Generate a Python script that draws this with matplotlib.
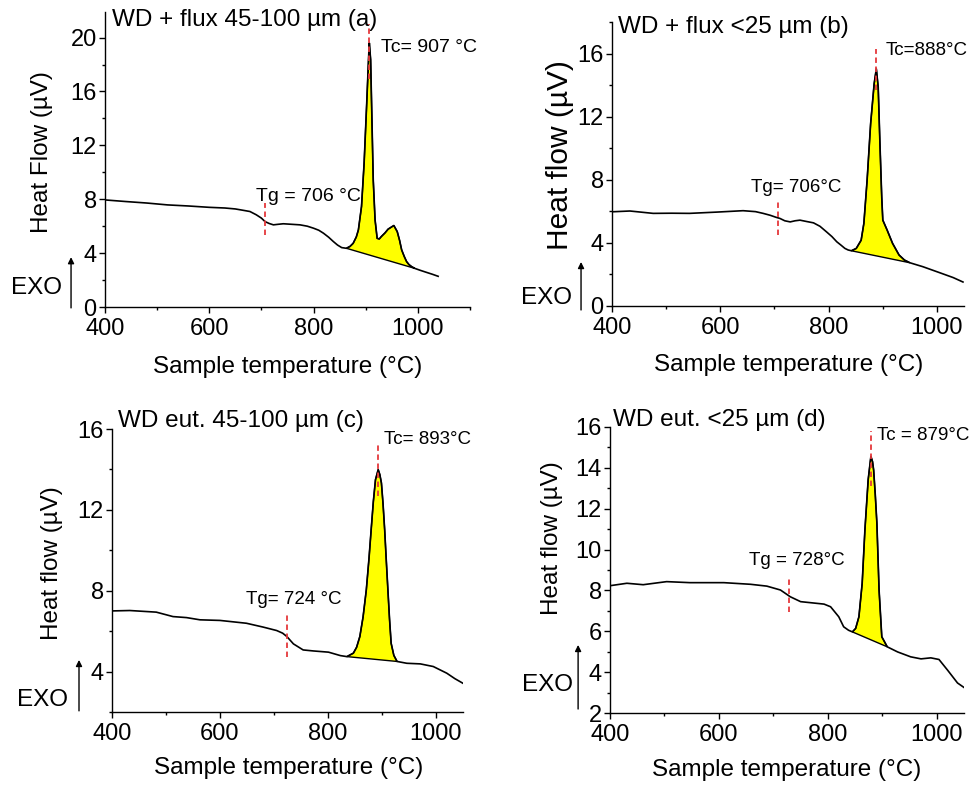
import numpy as np
import matplotlib
matplotlib.use("Agg")
import matplotlib.pyplot as plt
from matplotlib.ticker import MultipleLocator

plt.rcParams['font.family'] = ['Liberation Sans', 'DejaVu Sans']

# ---------------- DTA curves ----------------
# (a) WD + flux 45-100 um
temp_a = [400, 440, 480, 520, 560, 600, 630, 650, 665, 678, 690, 700, 707, 715,
          723, 732, 742, 758, 774, 788, 800, 810, 819, 829, 838, 846, 854, 863,
          870, 876, 882, 886, 892, 897, 902, 906, 907, 909.5, 912, 914.5, 918,
          922, 926, 930, 937, 943, 954, 960.5, 965, 969, 974, 978.5, 983, 988,
          994, 1005, 1016, 1028, 1039]
hf_a = [7.95, 7.83, 7.72, 7.58, 7.50, 7.40, 7.35, 7.28, 7.18, 7.09, 6.85, 6.60,
        6.34, 6.20, 6.10, 6.14, 6.18, 6.14, 6.10, 6.00, 5.85, 5.70, 5.48, 5.18,
        4.86, 4.60, 4.41, 4.36, 4.50, 4.73, 5.20, 5.72, 7.46, 10.68, 15.14,
        18.86, 19.6, 18.36, 13.9, 9.44, 6.47, 5.10, 5.05, 5.23, 5.50, 5.78,
        6.05, 5.60, 4.95, 4.24, 3.75, 3.37, 3.15, 3.00, 2.87, 2.72, 2.58, 2.43,
        2.28]
peak_a = (863, 994)
tg_a, tc_a = 706, 907

# (b) WD + flux <25 um
temp_b = [400, 433, 476, 510, 543, 593, 642, 665, 679, 692, 703, 710, 719, 729,
          738, 747, 760, 772, 784, 796, 806, 815, 823, 830, 836, 842, 851, 860,
          865, 871, 877.5, 884, 888, 891.5, 894.5, 898, 900, 908, 918, 930, 940,
          950, 974, 1005, 1030, 1048]
hf_b = [5.97, 6.02, 5.87, 5.88, 5.87, 5.95, 6.04, 5.98, 5.87, 5.75, 5.62, 5.55,
        5.40, 5.33, 5.40, 5.44, 5.35, 5.27, 5.05, 4.70, 4.40, 4.07, 3.85, 3.65,
        3.55, 3.50, 3.65, 4.17, 5.23, 7.97, 11.55, 14.08, 15.03, 13.87, 10.5,
        6.91, 5.44, 4.81, 3.97, 3.23, 2.91, 2.74, 2.49, 2.11, 1.80, 1.52]
peak_b = (842, 950)
tg_b, tc_b = 706, 888

# (c) WD eut. 45-100 um
temp_c = [400, 433, 482, 513, 538, 563, 600, 649, 680, 705, 716, 724, 736, 754,
          773, 801, 823, 835, 847, 853, 859, 865, 871, 876, 880, 884, 888, 893,
          896, 899, 902, 905, 908, 911, 914, 917, 922, 928, 946, 971, 995, 1020,
          1035, 1050]
hf_c = [7.00, 7.02, 6.94, 6.72, 6.67, 6.56, 6.53, 6.39, 6.20, 6.03, 5.90, 5.73,
        5.37, 5.07, 5.02, 4.96, 4.79, 4.74, 4.91, 5.20, 5.73, 6.70, 8.04, 9.60,
        11.02, 12.40, 13.49, 13.99, 13.75, 13.33, 12.30, 11.02, 9.50, 8.04,
        6.60, 5.40, 4.80, 4.50, 4.41, 4.38, 4.25, 3.92, 3.65, 3.42]
peak_c = (835, 928)
tg_c, tc_c = 724, 893

# (d) WD eut. <25 um
temp_d = [400, 431, 461, 504, 547, 609, 658, 688, 713, 731, 750, 768, 793, 805,
          820, 829, 838, 845, 851, 857, 863, 868, 874, 879, 882, 884, 887, 890,
          894, 899, 909, 928, 952, 971, 989, 1004, 1020, 1038, 1051]
hf_d = [8.23, 8.35, 8.28, 8.43, 8.38, 8.38, 8.30, 8.21, 8.02, 7.69, 7.45, 7.40,
        7.33, 7.20, 6.71, 6.22, 6.05, 5.97, 6.14, 6.71, 8.35, 10.96, 13.42,
        14.56, 14.30, 13.90, 12.70, 11.29, 8.02, 5.73, 5.24, 4.99, 4.75, 4.65,
        4.70, 4.62, 4.09, 3.47, 3.23]
peak_d = (845, 909)
tg_d, tc_d = 728, 879

titles = ["WD + flux 45-100 µm (a)", "WD + flux <25 µm (b)",
          "WD eut. 45-100 µm (c)", "WD eut. <25 µm (d)"]
ylabels = ["Heat Flow (µV)", "Heat flow (µV)", "Heat flow (µV)", "Heat flow (µV)"]
tc_labels = ["Tc= 907 °C", "Tc=888°C", "Tc= 893°C", "Tc = 879°C"]
tg_labels = ["Tg = 706 °C", "Tg= 706°C", "Tg= 724 °C", "Tg = 728°C"]
xlabel = "Sample temperature (°C)"

# ---------------- layout ----------------
fig = plt.figure(figsize=(9.73, 7.85), dpi=100)

layout = [
    dict(rect=[0.1079, 0.6089, 0.3751, 0.3758], xlim=(400, 1100), ylim=(0, 21.9),
         ymaj=4, ymin=2, title_xy=(413, 21.3), tc_xy=(930, 19.25), tg_xy=(690, 8.2),
         tc_span=(16.9, 21.0), tg_span=(5.34, 7.7), ann_fs=14,
         ylab_xy=(-0.173, 0.525), ylab_fs=17.5, xlab_xy=(0.501, -0.203),
         exo_xy=(-0.189, 0.064), arrow=(-0.093, -0.003, 0.169)),
    dict(rect=[0.6290, 0.6102, 0.3618, 0.3618], xlim=(400, 1050), ylim=(0, 18),
         ymaj=4, ymin=2, title_xy=(411, 17.7), tc_xy=(906, 16.2), tg_xy=(657, 7.5),
         tc_span=(13.7, 16.3), tg_span=(4.5, 6.71), ann_fs=13.5,
         ylab_xy=(-0.148, 0.532), ylab_fs=21.5, xlab_xy=(0.503, -0.208),
         exo_xy=(-0.185, 0.028), arrow=(-0.088, -0.014, 0.155)),
    dict(rect=[0.1151, 0.0930, 0.3607, 0.3605], xlim=(400, 1050), ylim=(2, 16),
         ymaj=4, ymin=2, title_xy=(411, 16.4), tc_xy=(903, 15.47), tg_xy=(649, 7.55),
         tc_span=(12.67, 15.3), tg_span=(4.74, 6.89), ann_fs=13.5,
         ylab_xy=(-0.172, 0.527), ylab_fs=17.5, xlab_xy=(0.502, -0.198),
         exo_xy=(-0.198, 0.042), arrow=(-0.094, 0.004, 0.184)),
    dict(rect=[0.6269, 0.0917, 0.3639, 0.3644], xlim=(400, 1050), ylim=(2, 16),
         ymaj=2, ymin=1, title_xy=(405, 16.36), tc_xy=(891, 15.6), tg_xy=(656, 9.46),
         tc_span=(13.09, 15.79), tg_span=(6.96, 8.64), ann_fs=13.5,
         ylab_xy=(-0.164, 0.612), ylab_fs=17.5, xlab_xy=(0.500, -0.199),
         exo_xy=(-0.177, 0.098), arrow=(-0.090, 0.014, 0.238)),
]

curves = [(temp_a, hf_a, peak_a, tg_a, tc_a),
          (temp_b, hf_b, peak_b, tg_b, tc_b),
          (temp_c, hf_c, peak_c, tg_c, tc_c),
          (temp_d, hf_d, peak_d, tg_d, tc_d)]

red = '#e5383b'
for i, (lay, (t, h, pk, tg, tc)) in enumerate(zip(layout, curves)):
    ax = fig.add_axes(lay['rect'])
    t = np.asarray(t, dtype=float)
    h = np.asarray(h, dtype=float)

    # crystallisation peak area above its straight baseline
    sel = (t >= pk[0]) & (t <= pk[1])
    ax.fill(t[sel], h[sel], facecolor='#ffff00', edgecolor='black', lw=1.0, zorder=2)
    ax.plot(t, h, color='black', lw=1.2, zorder=3)

    # Tg and Tc markers
    ax.plot([tg, tg], lay['tg_span'], color=red, lw=1.3, ls=(0, (3, 2)), zorder=4)
    ax.plot([tc, tc], lay['tc_span'], color=red, lw=1.3, ls=(0, (3, 2)), zorder=4)
    ax.text(*lay['tc_xy'], tc_labels[i], fontsize=lay['ann_fs'], va='center', ha='left')
    ax.text(*lay['tg_xy'], tg_labels[i], fontsize=lay['ann_fs'], va='center', ha='left')
    ax.text(*lay['title_xy'], titles[i], fontsize=17.5, va='center', ha='left')

    ax.set_xlim(*lay['xlim'])
    ax.set_ylim(*lay['ylim'])
    ax.xaxis.set_major_locator(MultipleLocator(200))
    ax.xaxis.set_minor_locator(MultipleLocator(100))
    ax.yaxis.set_major_locator(MultipleLocator(lay['ymaj']))
    ax.yaxis.set_minor_locator(MultipleLocator(lay['ymin']))
    ax.tick_params(which='major', direction='out', length=4, width=1,
                   labelsize=17)
    ax.tick_params(axis='x', which='major', pad=4)
    ax.tick_params(axis='y', which='major', pad=2)
    ax.tick_params(which='minor', direction='out', length=2.5, width=1)
    for s in ('top', 'right'):
        ax.spines[s].set_visible(False)
    for s in ('left', 'bottom'):
        ax.spines[s].set_linewidth(1.0)

    ax.set_ylabel(ylabels[i], fontsize=lay['ylab_fs'], va='center')
    ax.yaxis.set_label_coords(*lay['ylab_xy'])
    ax.set_xlabel(xlabel, fontsize=17.5, va='center')
    ax.xaxis.set_label_coords(*lay['xlab_xy'])

    # exotherm direction marker
    ax.text(*lay['exo_xy'], "EXO", fontsize=17.5, transform=ax.transAxes,
            ha='center', va='center')
    ax_x, y0, y1 = lay['arrow']
    ax.annotate('', xy=(ax_x, y1), xytext=(ax_x, y0), xycoords='axes fraction',
                textcoords='axes fraction', annotation_clip=False,
                arrowprops=dict(arrowstyle='-|>', color='black', lw=1.0,
                                mutation_scale=9, shrinkA=0, shrinkB=0))

fig.savefig('out.png', dpi=100)
